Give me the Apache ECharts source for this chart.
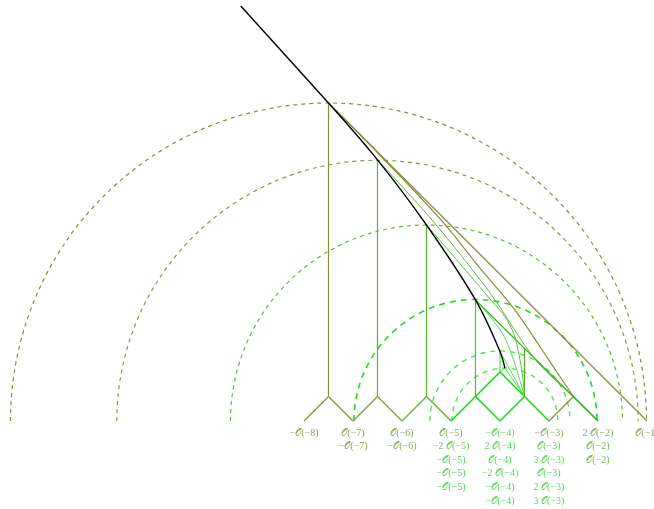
<!DOCTYPE html>
<html><head><meta charset="utf-8">
<script src="https://cdn.jsdelivr.net/npm/echarts@6/dist/echarts.min.js"></script>
<style>html,body{margin:0;padding:0;background:#fff}#c{width:654px;height:509px}</style>
</head><body><div id="c"></div>
<script>
// ---------- data (1 unit = spacing between adjacent sheaves) ----------
const zigX = [-8, -7.5, -7, -6.5, -6, -5.5, -5, -4.5, -4, -3.5, -3, -2.5, -2];
const zigY = [0, 0.5, 0, 0.5, 0, 0.5, 0, 0.5, 0, 0.5, 0, 0.5, 0];

const vertX = [-7.5, -6.5, -5.5, -4.5, -3.5, -4.0];
const vertBottom = [0.5, 0.5, 0.5, 0.5, 0.5, 1.0];
const vertTop = [6.49, 5.33, 4.0, 2.47, 1.49, 1.42];

const arcCenter = [-7.5, -6.5, -5.5, -4.5, -4.0, -3.9];
const arcRadius = [6.49, 5.32, 4.0, 2.48, 1.43, 1.08];

const blackTopX = [-9.29, -7.5];
const blackTopY = [8.47, 6.49];
const blackX = [-7.5, -6.5, -5.5, -4.5, -4.0, -3.9];
const blackY = [6.49, 5.33, 4.0, 2.47, 1.42, 1.08];

const diag1X = [-7.5, -1];
const diag1Y = [6.49, 0];
const diag4X = [-4.5, -2];
const diag4Y = [2.47, 0];

const oliveArcX = [-7.5, -6.59, -5.20, -4.41, -3.73, -3.18, -2.84, -2.5];
const oliveArcY = [6.49, 5.57, 4.10, 3.12, 2.31, 1.51, 1.0, 0.5];

const p2LineX = [-6.5, -5.37, -4.20, -3.27, -2.5];
const p2LineY = [5.33, 4.08, 2.61, 1.24, 0.5];

const diamondX = [-4.5, -4, -3.5];
const diamondY = [0.5, 1.0, 0.5];

const fanAX = [-3.5, -3.9];
const fanAY = [0.5, 1.08];
const fanBX = [-3.5, -4.0];
const fanBY = [0.5, 1.42];
const fanCX = [-3.5, -3.76, -4.0, -4.5];
const fanCY = [0.5, 1.35, 1.86, 2.47];
const fanDX = [-3.5, -3.59, -3.80, -4.24, -5.5];
const fanDY = [0.5, 1.24, 1.96, 2.53, 4.0];
const tinyX = [-4.0, -3.9];
const tinyY = [1.0, 1.08];

const labelX = [-8, -7, -6, -5, -4, -3, -2, -1];
const labelRows = [
  ['−𝒪(−8)'],
  ['𝒪(−7)', '−𝒪(−7)'],
  ['𝒪(−6)', '−𝒪(−6)'],
  ['𝒪(−5)', '−2 𝒪(−5)', '−𝒪(−5)', '−𝒪(−5)', '−𝒪(−5)'],
  ['−𝒪(−4)', '2 𝒪(−4)', '𝒪(−4)', '−2 𝒪(−4)', '−𝒪(−4)', '−𝒪(−4)'],
  ['−𝒪(−3)', '𝒪(−3)', '3 𝒪(−3)', '𝒪(−3)', '2 𝒪(−3)', '3 𝒪(−3)'],
  ['2 𝒪(−2)', '𝒪(−2)', '𝒪(−2)'],
  ['𝒪(−1)']
];

// ---------- styles ----------
const OLIVE = '#8b8b3c', OLGR = '#7d9d37', GREEN = '#5cb02c', GR2 = '#3cc83c', BRIGHT = '#14dc14', LIGHT = '#4fe04f';
const zigColors = [OLIVE, OLIVE, OLGR, OLGR, GREEN, GREEN, BRIGHT, BRIGHT, BRIGHT, BRIGHT, OLIVE, '#3fae28'];
const vertColors = [OLIVE, OLGR, GREEN, GR2, '#56a826', LIGHT];
const arcColors = [OLIVE, '#78a23a', '#62b832', '#1edc1e', '#3ee83e', '#3ee83e'];
const arcWidths = [1.2, 1.2, 1.2, 1.6, 1.3, 1.3];
const arcDash = [[4, 4], [4, 4], [4, 4], [6, 5], [5, 5], [5, 5]];
const labelColors = [
  ['#9a9a5e'],
  ['#9a9a5e', '#9a9a5e'],
  ['#8aa85a', '#8aa85a'],
  ['#8aa85a', '#72c45a', '#4cd84c', '#4cd84c', '#4cd84c'],
  ['#5ad45a', '#5ad45a', '#5ad45a', '#5ad45a', '#5ad45a', '#5ad45a'],
  ['#7cb45a', '#5ad45a', '#5ad45a', '#5ad45a', '#5ad45a', '#5ad45a'],
  ['#8aa85a', '#7cb45a', '#7cb45a'],
  ['#9a9a5e']
];

function pts(xs, ys) { return xs.map((x, i) => [x, ys[i]]); }
function line(xs, ys, color, width, smooth) {
  return { type: 'line', data: pts(xs, ys), showSymbol: false, symbol: 'none', silent: true,
    smooth: smooth || false, lineStyle: { color: color, width: width || 1 }, z: 3 };
}

const series = [];
// dashed semicircles
series.push({
  type: 'custom', silent: true, z: 1,
  data: arcCenter.map((c, i) => [c, arcRadius[i]]),
  renderItem: function (params, api) {
    const i = params.dataIndex;
    const c = api.coord([api.value(0), 0]);
    const r = api.size([api.value(1), 0])[0];
    return { type: 'arc', shape: { cx: c[0], cy: c[1], r: r, startAngle: Math.PI, endAngle: 2 * Math.PI, clockwise: true },
      style: { stroke: arcColors[i], fill: null, lineWidth: arcWidths[i], lineDash: arcDash[i] } };
  }
});
// zigzag
for (let i = 0; i < zigX.length - 1; i++) {
  series.push(line([zigX[i], zigX[i + 1]], [zigY[i], zigY[i + 1]], zigColors[i], (zigColors[i] === BRIGHT ? 1.6 : 1.2)));
}
// verticals
vertX.forEach((x, i) => series.push(line([x, x], [vertBottom[i], vertTop[i]], vertColors[i], 1.2)));
// other lines
series.push(line(diag1X, diag1Y, OLIVE, 1.2));
series.push(line(oliveArcX, oliveArcY, OLIVE, 1.2, 0.4));
series.push(line(p2LineX, p2LineY, '#6db33a', 1, 0.3));
series.push(line(diag4X, diag4Y, '#3fae28', 1.2));
series.push(line(diamondX, diamondY, BRIGHT, 1.6));
series.push(line(fanAX, fanAY, LIGHT, 1));
series.push(line(fanBX, fanBY, LIGHT, 1));
series.push(line(fanCX, fanCY, LIGHT, 1, 0.4));
series.push(line(fanDX, fanDY, '#55c63a', 1, 0.4));
series.push(line(tinyX, tinyY, LIGHT, 1));
// black curve
series.push(Object.assign(line(blackTopX, blackTopY, '#000', 1.4), { z: 5 }));
series.push(Object.assign(line(blackX, blackY, '#000', 1.4, 0.35), { z: 5 }));
// labels
const labelData = [];
labelX.forEach((x, i) => labelRows[i].forEach((t, r) => labelData.push([x, 0, i, r])));
series.push({
  type: 'custom', silent: true, z: 6, clip: false,
  data: labelData,
  renderItem: function (params, api) {
    const col = api.value(2), row = api.value(3);
    const p = api.coord([api.value(0), api.value(1)]);
    return { type: 'text', x: p[0], y: p[1] + 12 + row * 13.6,
      style: { text: labelRows[col][row], fill: labelColors[col][row], font: '10px "Liberation Serif", serif',
        align: 'center', verticalAlign: 'middle' } };
  }
});

const chart = echarts.init(document.getElementById('c'), null, { renderer: 'canvas' });
chart.setOption({
  animation: false,
  backgroundColor: '#fff',
  grid: { left: 0, right: 0, top: 0, bottom: 0 },
  xAxis: { type: 'value', min: -696 / 49, max: -42 / 49, show: false },
  yAxis: { type: 'value', min: -88 / 49, max: 421 / 49, show: false },
  series: series
});
</script></body></html>
